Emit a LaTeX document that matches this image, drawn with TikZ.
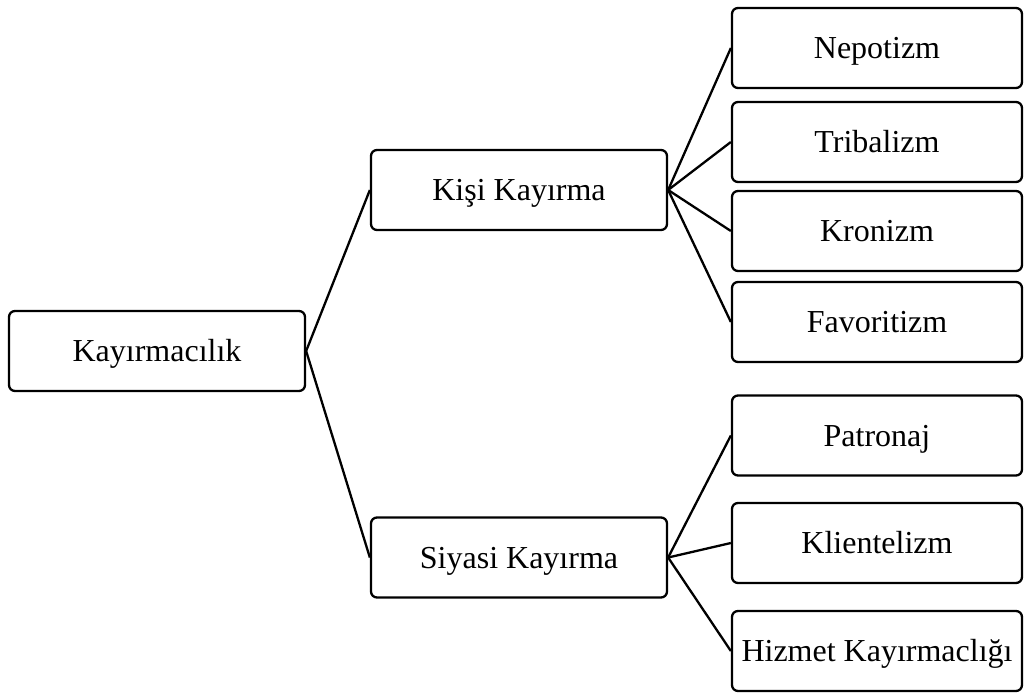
\documentclass[tikz,border=0pt]{standalone}
\usepackage{fontspec}
\setmainfont{Liberation Serif}
\begin{document}
\begin{tikzpicture}[x=1pt,y=-1pt,
  box/.style={draw, line width=2.3pt, rounded corners=6pt, minimum width=296pt,
    minimum height=80pt, inner sep=0pt, text height=21pt, text depth=0pt,
    font=\fontsize{32}{38}\selectfont},
  leaf/.style={box, minimum width=290pt},
  link/.style={line width=2.3pt}]
\useasboundingbox (0,0) rectangle (1024,693);
% root and the two branches
\node[box] (root)   at (157,351)   {Kayırmacılık};
\node[box] (kisi)   at (519,190)   {Kişi Kayırma};
\node[box] (siyasi) at (519,557.5) {Siyasi Kayırma};
% leaves of the first branch
\node[leaf] (nep)  at (877,48)  {Nepotizm};
\node[leaf] (trib) at (877,142) {Tribalizm};
\node[leaf] (kron) at (877,231) {Kronizm};
\node[leaf] (fav)  at (877,322) {Favoritizm};
% leaves of the second branch
\node[leaf] (patr) at (877,435.5) {Patronaj};
\node[leaf] (kli)  at (877,543)   {Klientelizm};
\node[leaf] (hiz)  at (877,651)   {Hizmet Kayırmaclığı};
% connectors
\draw[link] (root.east) -- (kisi.west);
\draw[link] (root.east) -- (siyasi.west);
\foreach \t in {nep,trib,kron,fav} \draw[link] (kisi.east) -- (\t.west);
\foreach \t in {patr,kli,hiz} \draw[link] (siyasi.east) -- (\t.west);
\end{tikzpicture}
\end{document}
